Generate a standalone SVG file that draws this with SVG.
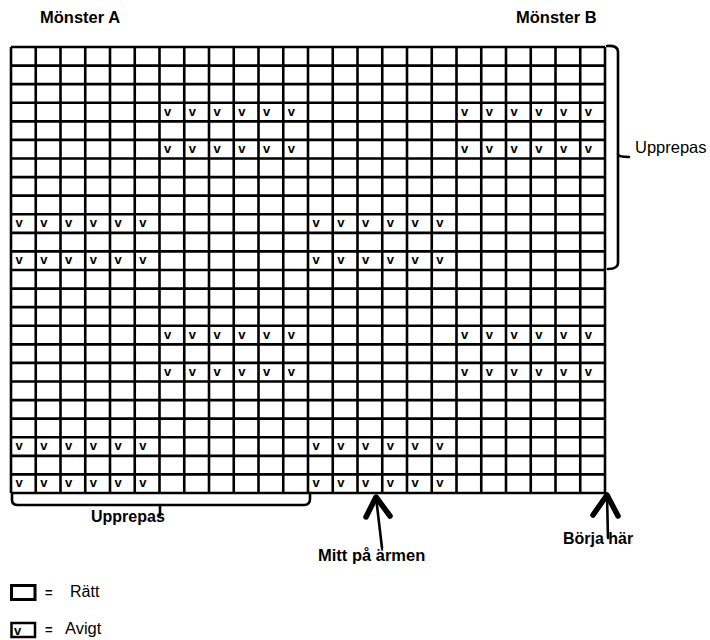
<svg xmlns="http://www.w3.org/2000/svg" width="710" height="640" viewBox="0 0 710 640">
<style>
.t{font-family:"Liberation Sans",Arial,sans-serif;fill:#000}
.b{font-weight:bold}
.v{font-family:"Liberation Sans",Arial,sans-serif;font-weight:bold;font-size:13px;fill:#000}
.g{stroke:#000;stroke-width:2.6;fill:none}
.br{stroke:#000;stroke-width:2.6;fill:none;stroke-linecap:round;stroke-linejoin:round}
.sh{stroke:#000;stroke-width:2.6;fill:none;stroke-linecap:round}
.hd{stroke:#000;stroke-width:5.5;fill:none;stroke-linecap:round;stroke-linejoin:round}
</style>
<rect width="710" height="640" fill="#fff"/>
<g id="titles">
<text class="t b" x="40" y="23" font-size="16.5">Mönster A</text>
<text class="t b" x="516" y="23" font-size="16.5">Mönster B</text>
</g>
<g id="grid">
<path class="g" d="M11,47V493M35.75,47V493M60.5,47V493M85.25,47V493M110,47V493M134.75,47V493M159.5,47V493M184.25,47V493M209,47V493M233.75,47V493M258.5,47V493M283.25,47V493M308,47V493M332.75,47V493M357.5,47V493M382.25,47V493M407,47V493M431.75,47V493M456.5,47V493M481.25,47V493M506,47V493M530.75,47V493M555.5,47V493M580.25,47V493M605,47V493"/>
<path class="g" d="M11,47H605M11,65.58H605M11,84.17H605M11,102.75H605M11,121.33H605M11,139.92H605M11,158.5H605M11,177.08H605M11,195.67H605M11,214.25H605M11,232.83H605M11,251.42H605M11,270H605M11,288.58H605M11,307.17H605M11,325.75H605M11,344.33H605M11,362.92H605M11,381.5H605M11,400.08H605M11,418.67H605M11,437.25H605M11,455.83H605M11,474.42H605M11,493H605"/>
</g>
<g id="purl-stitches">
<text class="v" x="164" y="115.5">v</text><text class="v" x="188.75" y="115.5">v</text><text class="v" x="213.5" y="115.5">v</text><text class="v" x="238.25" y="115.5">v</text><text class="v" x="263" y="115.5">v</text><text class="v" x="287.75" y="115.5">v</text>
<text class="v" x="461" y="115.5">v</text><text class="v" x="485.75" y="115.5">v</text><text class="v" x="510.5" y="115.5">v</text><text class="v" x="535.25" y="115.5">v</text><text class="v" x="560" y="115.5">v</text><text class="v" x="584.75" y="115.5">v</text>
<text class="v" x="164" y="152.6">v</text><text class="v" x="188.75" y="152.6">v</text><text class="v" x="213.5" y="152.6">v</text><text class="v" x="238.25" y="152.6">v</text><text class="v" x="263" y="152.6">v</text><text class="v" x="287.75" y="152.6">v</text>
<text class="v" x="461" y="152.6">v</text><text class="v" x="485.75" y="152.6">v</text><text class="v" x="510.5" y="152.6">v</text><text class="v" x="535.25" y="152.6">v</text><text class="v" x="560" y="152.6">v</text><text class="v" x="584.75" y="152.6">v</text>
<text class="v" x="15.5" y="227">v</text><text class="v" x="40.25" y="227">v</text><text class="v" x="65" y="227">v</text><text class="v" x="89.75" y="227">v</text><text class="v" x="114.5" y="227">v</text><text class="v" x="139.25" y="227">v</text>
<text class="v" x="312.5" y="227">v</text><text class="v" x="337.25" y="227">v</text><text class="v" x="362" y="227">v</text><text class="v" x="386.75" y="227">v</text><text class="v" x="411.5" y="227">v</text><text class="v" x="436.25" y="227">v</text>
<text class="v" x="15.5" y="264.1">v</text><text class="v" x="40.25" y="264.1">v</text><text class="v" x="65" y="264.1">v</text><text class="v" x="89.75" y="264.1">v</text><text class="v" x="114.5" y="264.1">v</text><text class="v" x="139.25" y="264.1">v</text>
<text class="v" x="312.5" y="264.1">v</text><text class="v" x="337.25" y="264.1">v</text><text class="v" x="362" y="264.1">v</text><text class="v" x="386.75" y="264.1">v</text><text class="v" x="411.5" y="264.1">v</text><text class="v" x="436.25" y="264.1">v</text>
<text class="v" x="164" y="338.5">v</text><text class="v" x="188.75" y="338.5">v</text><text class="v" x="213.5" y="338.5">v</text><text class="v" x="238.25" y="338.5">v</text><text class="v" x="263" y="338.5">v</text><text class="v" x="287.75" y="338.5">v</text>
<text class="v" x="461" y="338.5">v</text><text class="v" x="485.75" y="338.5">v</text><text class="v" x="510.5" y="338.5">v</text><text class="v" x="535.25" y="338.5">v</text><text class="v" x="560" y="338.5">v</text><text class="v" x="584.75" y="338.5">v</text>
<text class="v" x="164" y="375.6">v</text><text class="v" x="188.75" y="375.6">v</text><text class="v" x="213.5" y="375.6">v</text><text class="v" x="238.25" y="375.6">v</text><text class="v" x="263" y="375.6">v</text><text class="v" x="287.75" y="375.6">v</text>
<text class="v" x="461" y="375.6">v</text><text class="v" x="485.75" y="375.6">v</text><text class="v" x="510.5" y="375.6">v</text><text class="v" x="535.25" y="375.6">v</text><text class="v" x="560" y="375.6">v</text><text class="v" x="584.75" y="375.6">v</text>
<text class="v" x="15.5" y="450">v</text><text class="v" x="40.25" y="450">v</text><text class="v" x="65" y="450">v</text><text class="v" x="89.75" y="450">v</text><text class="v" x="114.5" y="450">v</text><text class="v" x="139.25" y="450">v</text>
<text class="v" x="312.5" y="450">v</text><text class="v" x="337.25" y="450">v</text><text class="v" x="362" y="450">v</text><text class="v" x="386.75" y="450">v</text><text class="v" x="411.5" y="450">v</text><text class="v" x="436.25" y="450">v</text>
<text class="v" x="15.5" y="487.1">v</text><text class="v" x="40.25" y="487.1">v</text><text class="v" x="65" y="487.1">v</text><text class="v" x="89.75" y="487.1">v</text><text class="v" x="114.5" y="487.1">v</text><text class="v" x="139.25" y="487.1">v</text>
<text class="v" x="312.5" y="487.1">v</text><text class="v" x="337.25" y="487.1">v</text><text class="v" x="362" y="487.1">v</text><text class="v" x="386.75" y="487.1">v</text><text class="v" x="411.5" y="487.1">v</text><text class="v" x="436.25" y="487.1">v</text>
</g>
<g id="repeat-right">
<path class="br" d="M607,46 Q618,45 618,52 V263 Q618,269 608,269"/>
<path class="br" d="M618,154 Q618,157 629,157"/>
<text class="t" x="635" y="153" font-size="16.5">Upprepas</text>
</g>
<g id="repeat-bottom">
<path class="br" d="M12,493 V500 Q12,505 18,505 H304 Q310,505 310,499 V493"/>
<path class="br" d="M160,505 V515"/>
<text class="t b" x="91" y="522" font-size="16">Upprepas</text>
</g>
<g id="connectors">
<path class="sh" d="M376,497 L382,548"/>
<path class="hd" d="M366,517 L376,497 L390,516"/>
<path class="sh" d="M607,495 L608,538"/>
<path class="hd" d="M593,515 L607,495 L618,516"/>
</g>
<g id="label-mitt">
<text class="t b" x="318" y="561" font-size="16.5">Mitt på ärmen</text>
</g>
<g id="label-borja">
<text class="t b" x="563" y="544" font-size="16">Börja här</text>
</g>
<g id="legend">
<rect x="11.5" y="585.5" width="23.5" height="14" fill="#fff" stroke="#000" stroke-width="3"/>
<text class="t b" x="45" y="597" font-size="13">=</text>
<text class="t" x="70" y="597" font-size="16">Rätt</text>
<rect x="11.5" y="623" width="23.5" height="14" fill="#fff" stroke="#000" stroke-width="2.5"/>
<text class="v" x="14" y="634.5">v</text>
<text class="t b" x="45" y="634" font-size="13">=</text>
<text class="t" x="65" y="634" font-size="16.5">Avigt</text>
</g>
</svg>
